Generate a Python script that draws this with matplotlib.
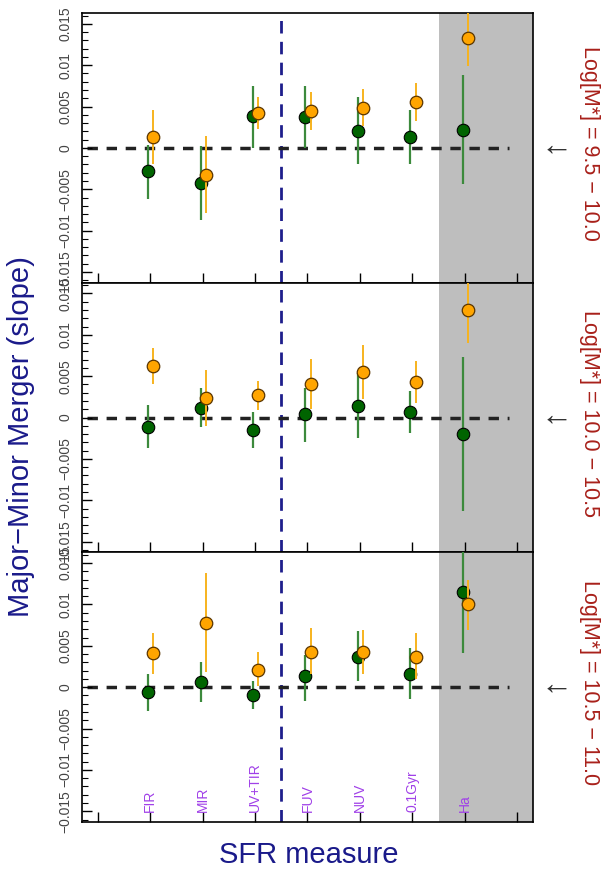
# Major-Minor merger slope vs SFR measure, three stellar mass bins
import matplotlib
matplotlib.use("Agg")
import matplotlib.pyplot as plt
import numpy as np

plt.rcParams['font.family'] = ['Liberation Sans', 'DejaVu Sans']

categories = ['FIR', 'MIR', 'UV+TIR', 'FUV', 'NUV', '0.1Gyr', 'Ha']
mass_bins = ['Log[M*] = 9.5 \u2212 10.0', 'Log[M*] = 10.0 \u2212 10.5', 'Log[M*] = 10.5 \u2212 11.0']

# green points (one row per mass bin)
green_mid = [[-0.0028, -0.0043, 0.0038, 0.0037, 0.0021, 0.0013, 0.0022],
             [-0.0011, 0.0012, -0.0015, 0.0004, 0.0014, 0.0007, -0.0020],
             [-0.0006, 0.0006, -0.0009, 0.0013, 0.0037, 0.0016, 0.0115]]
green_lo = [[-0.0062, -0.0087, 0.0000, 0.0000, -0.0020, -0.0020, -0.0044],
            [-0.0037, -0.0012, -0.0037, -0.0029, -0.0025, -0.0019, -0.0113],
            [-0.0029, -0.0018, -0.0026, -0.0017, 0.0007, -0.0014, 0.0041]]
green_hi = [[0.0004, 0.0002, 0.0075, 0.0075, 0.0062, 0.0046, 0.0088],
            [0.0015, 0.0036, 0.0007, 0.0036, 0.0054, 0.0032, 0.0073],
            [0.0016, 0.0031, 0.0008, 0.0039, 0.0068, 0.0047, 0.0170]]

# orange points
orange_mid = [[0.0013, -0.0033, 0.0042, 0.0045, 0.0048, 0.0056, 0.0133],
              [0.0062, 0.0024, 0.0027, 0.0041, 0.0055, 0.0043, 0.0130],
              [0.0041, 0.0078, 0.0021, 0.0043, 0.0043, 0.0037, 0.0100]]
orange_lo = [[-0.0019, -0.0079, 0.0023, 0.0022, 0.0026, 0.0033, 0.0099],
             [0.0041, -0.0010, 0.0009, 0.0010, 0.0023, 0.0018, 0.0090],
             [0.0016, 0.0018, 0.0001, 0.0016, 0.0016, 0.0010, 0.0069]]
orange_hi = [[0.0046, 0.0015, 0.0061, 0.0068, 0.0071, 0.0079, 0.0168],
             [0.0084, 0.0058, 0.0044, 0.0071, 0.0088, 0.0068, 0.0168],
             [0.0065, 0.0138, 0.0043, 0.0071, 0.0069, 0.0065, 0.0130]]

x = np.arange(1, len(categories) + 1)

fig, axes = plt.subplots(3, 1, figsize=(6.05, 8.73), dpi=100, sharex=True)
fig.subplots_adjust(left=0.1355, right=0.881, top=0.985, bottom=0.0584, hspace=0)

for i, ax in enumerate(axes):
    ax.axvspan(6.5, 8.5, color='#BEBEBE', lw=0, zorder=0)
    ax.axvline(3.5, color='#1E1E8C', lw=2.0, ls=(0, (4.5, 3)), zorder=1)
    ax.hlines(0, -0.2, 7.85, color='#222222', lw=2.5, linestyles=[(0, (3, 2.5))], zorder=1)

    gm = np.array(green_mid[i])
    gerr = [gm - np.array(green_lo[i]), np.array(green_hi[i]) - gm]
    ax.errorbar(x - 0.04, gm, yerr=gerr, fmt='o', color='#3C8A3C', elinewidth=1.6,
                capsize=0, ms=9, mfc='#006400', mec='black', mew=0.8, zorder=3)

    om = np.array(orange_mid[i])
    oerr = [om - np.array(orange_lo[i]), np.array(orange_hi[i]) - om]
    ax.errorbar(x + 0.06, om, yerr=oerr, fmt='o', color='#F7B31E', elinewidth=1.4,
                capsize=0, ms=9, mfc='#FFA500', mec='#5A3500', mew=0.9, zorder=4)

    ax.set_xlim(-0.3, 8.3)
    ax.set_ylim(-0.0163, 0.0163)
    ax.set_xticks(np.arange(0, 9))
    ax.tick_params(axis='x', direction='in', length=7, width=1, labelbottom=False)
    ax.set_yticks([-0.015, -0.01, -0.005, 0, 0.005, 0.01, 0.015])
    ax.set_yticklabels(['\u22120.015', '\u22120.01', '\u22120.005', '0', '0.005', '0.01', '0.015'])
    ax.set_yticks(np.arange(-0.016, 0.0165, 0.001), minor=True)
    ax.tick_params(axis='y', which='major', direction='in', length=7, width=1,
                   labelrotation=90, labelsize=10, labelcolor='#444444', pad=7)
    ax.tick_params(axis='y', which='minor', direction='in', length=4, width=0.8)
    for lab in ax.get_yticklabels():
        lab.set_va('center')
    for sp in ax.spines.values():
        sp.set_linewidth(1.2)

    # mass bin label and arrow on the right
    ax.annotate(mass_bins[i], xy=(1.0, 0), xycoords=('axes fraction', 'data'),
                xytext=(41, 3), textcoords='offset points', rotation=-90,
                ha='center', va='center', fontsize=15.5, color='#A8201A',
                annotation_clip=False)
    ax.annotate('\u2190', xy=(1.0, 0), xycoords=('axes fraction', 'data'),
                xytext=(17, 1), textcoords='offset points',
                ha='center', va='center', fontsize=23, color='#333333',
                annotation_clip=False)

# category labels inside the bottom panel
for xi, name in zip(x, categories):
    axes[2].text(xi, -0.0151, name, rotation=90, ha='center', va='bottom',
                 fontsize=10, color='#A040E8')

fig.text(0.034, 0.5, 'Major\u2212Minor Merger (slope)', rotation=90, ha='center',
         va='center', fontsize=21, color='#1a1a8a')
fig.text(0.51, 0.021, 'SFR measure', ha='center', va='center', fontsize=21,
         color='#1a1a8a')

fig.savefig('out.png', dpi=100)
